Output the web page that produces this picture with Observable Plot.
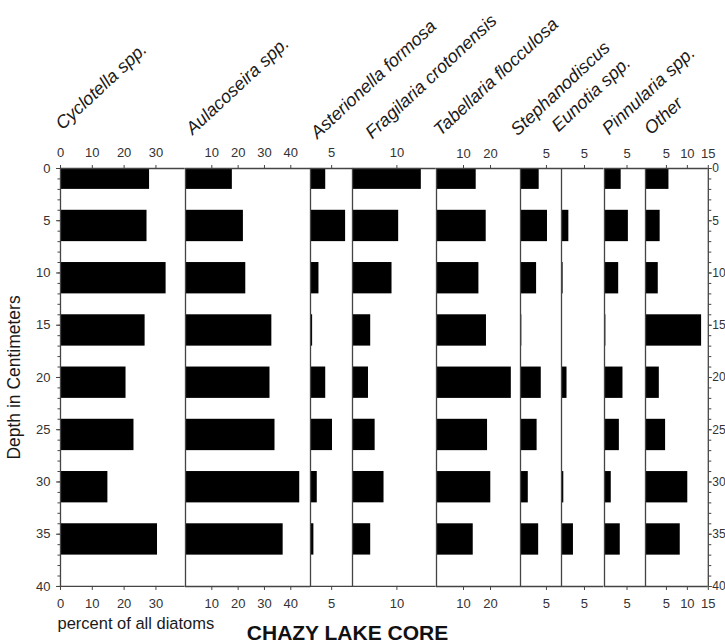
<!DOCTYPE html>
<html>
<head>
<meta charset="utf-8">
<script src="https://cdn.jsdelivr.net/npm/d3@7"></script>
<script src="https://cdn.jsdelivr.net/npm/@observablehq/plot@0.6"></script>
<style>
  html, body { margin: 0; padding: 0; background: #fff; }
  #chart { position: relative; width: 725px; height: 643px; overflow: hidden; font-family: "Liberation Sans", Arial, sans-serif; }
  #chart svg { position: absolute; top: 0; }
</style>
</head>
<body>
<div id="chart"></div>
<script>
// ---- data ----
const depths = [0, 5, 10, 15, 20, 25, 30, 35];
const taxa = ["Cyclotella spp.", "Aulacoseira spp.", "Asterionella formosa", "Fragilaria crotonensis",
  "Tabellaria flocculosa", "Stephanodiscus", "Eunotia spp.", "Pinnularia spp.", "Other"];
const cyclotella    = [28.0, 27.2, 33.2, 26.6, 20.6, 23.1, 14.9, 30.5];
const aulacoseira   = [17.8, 22.0, 22.9, 32.8, 32.1, 34.0, 43.4, 37.1];
const asterionella  = [3.6, 8.3, 2.0, 0.5, 3.6, 5.2, 1.6, 0.8];
const fragilaria    = [15.5, 10.4, 8.9, 4.1, 3.6, 5.1, 7.1, 4.1];
const tabellaria    = [14.7, 18.4, 15.7, 18.5, 27.7, 18.9, 20.1, 13.6];
const stephanodiscus= [3.6, 5.2, 3.1, 0.25, 4.0, 3.2, 1.5, 3.5];
const eunotia       = [0, 1.6, 0.35, 0, 1.2, 0, 0.5, 2.6];
const pinnularia    = [3.7, 5.3, 3.15, 0.3, 4.1, 3.3, 1.5, 3.5];
const other         = [5.6, 3.5, 3.05, 13.4, 3.3, 4.8, 10.1, 8.3];
const series = [cyclotella, aulacoseira, asterionella, fragilaria, tabellaria, stephanodiscus, eunotia, pinnularia, other];
// percent-axis tick labels per panel, and each panel's percent extent
const xTicks = [[0, 10, 20, 30], [10, 20, 30, 40], [5], [10], [10, 20], [5], [5], [5], [5, 10, 15]];
const xMax = [39.2, 47.6, 10, 18.85, 31.1, 7.9, 9.25, 9.1, 15];
const depthTicks = [0, 5, 10, 15, 20, 25, 30, 35, 40];
const depthMinor = d3.range(0, 41);

// ---- layout (pixels) ----
const W = 725, H = 643, TOP = 168, BOTTOM = 586;
const panelX = [60, 184.7, 310, 352.3, 436, 520, 561, 603.5, 644.5, 707.3];
const titleAt = [[62, 130], [192, 135], [317, 139], [372, 139], [440, 136], [517, 136], [558, 132], [608, 135], [650, 135]];
const font = "Liberation Sans, Arial, sans-serif";
const lineColor = "#444";

const chart = document.getElementById("chart");
const n = taxa.length;
for (let i = 0; i < n; i++) {
  const x0 = panelX[i], x1 = panelX[i + 1];
  const ml = i === 0 ? x0 : 0;
  const mr = i === n - 1 ? W - x1 : 0;
  const w = x1 - x0;
  const rows = depths.map((d, k) => ({depth: d, v: series[i][k]}));
  const marks = [
    Plot.rect(rows, {x1: 0, x2: "v", y1: d => Math.max(0, d.depth - 1), y2: d => d.depth + 2, fill: "black"}),
    Plot.ruleY([0, 40], {stroke: lineColor, strokeWidth: 1.3}),
    Plot.ruleX([0], {stroke: lineColor, strokeWidth: 1.3}),
    Plot.axisX({anchor: "top", ticks: xTicks[i], tickSize: 4, tickPadding: 7, label: null, stroke: lineColor}),
    Plot.axisX({anchor: "bottom", ticks: xTicks[i], tickSize: 4, tickPadding: 8, label: null, stroke: lineColor}),
    Plot.text([taxa[i]], {frameAnchor: "top-left", dx: titleAt[i][0] - x0, dy: titleAt[i][1] - TOP,
      rotate: -43, textAnchor: "start", lineAnchor: "bottom", fontSize: 18, fontStyle: "italic", fill: "#1a1a1a"})
  ];
  if (i === 0) {
    marks.push(
      Plot.axisY({anchor: "left", ticks: depthTicks, tickSize: 4, tickPadding: 6, label: null, stroke: lineColor}),
      Plot.axisY({anchor: "left", ticks: depthMinor, tickSize: 2.5, tickFormat: () => "", label: null, stroke: lineColor}),
      Plot.text(["Depth in Centimeters"], {frameAnchor: "left", dx: 14 - x0, rotate: -90, textAnchor: "middle",
        lineAnchor: "middle", fontSize: 17.5, fill: "#1a1a1a"}),
      Plot.text(["percent of all diatoms"], {frameAnchor: "top-left", dx: 57 - x0, dy: 629 - TOP,
        textAnchor: "start", lineAnchor: "bottom", fontSize: 16.5, fill: "#1a1a1a"}),
      Plot.text(["CHAZY LAKE CORE"], {frameAnchor: "top-left", dx: 347 - x0, dy: 640 - TOP,
        textAnchor: "middle", lineAnchor: "bottom", fontSize: 21, fontWeight: "bold", fill: "#111"})
    );
  }
  if (i === n - 1) {
    marks.push(
      Plot.ruleX([xMax[i]], {stroke: lineColor, strokeWidth: 1.3}),
      Plot.axisY({anchor: "right", ticks: depthTicks, tickSize: 3, tickPadding: 1, label: null, stroke: lineColor, fontSize: 12}),
      Plot.axisY({anchor: "right", ticks: depthMinor, tickSize: 2.5, tickFormat: () => "", label: null, stroke: lineColor})
    );
  }
  const svg = Plot.plot({
    width: w + ml + mr,
    height: H,
    marginLeft: ml, marginRight: mr, marginTop: TOP, marginBottom: H - BOTTOM,
    x: {domain: [0, xMax[i]], range: [ml, ml + w], axis: null},
    y: {domain: [0, 40], range: [TOP, BOTTOM], axis: null},
    style: {background: "transparent", overflow: "visible", fontFamily: font, fontSize: "13px", color: "#333"},
    marks
  });
  svg.style.left = (x0 - ml) + "px";
  chart.appendChild(svg);
}
</script>
</body>
</html>
